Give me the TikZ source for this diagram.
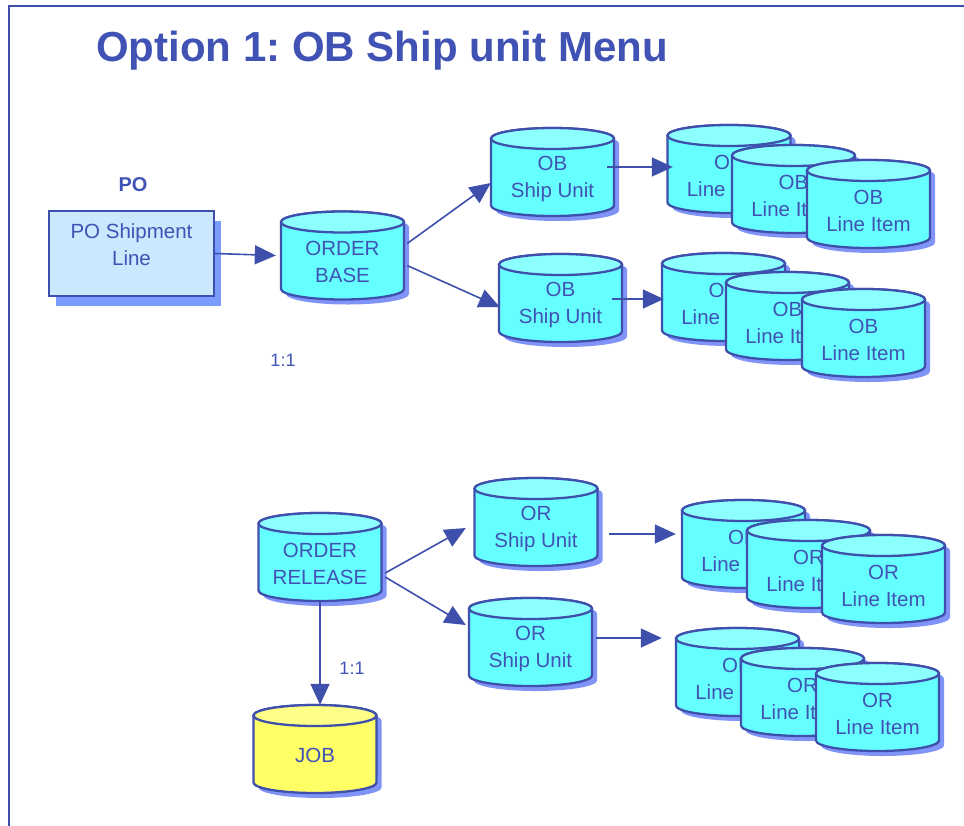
\documentclass[tikz,border=0pt]{standalone}
\usepackage{fontspec}
\setmainfont{Liberation Sans}
\usetikzlibrary{arrows.meta,shadows}
\definecolor{dblue}{RGB}{62,80,172}
\definecolor{tblue}{RGB}{64,82,180}
\definecolor{cyanbody}{RGB}{102,255,255}
\definecolor{cyantop}{RGB}{140,255,255}
\definecolor{yelbody}{RGB}{255,255,102}
\definecolor{yeltop}{RGB}{255,255,135}
\definecolor{shadowc}{RGB}{128,148,248}
\definecolor{pofill}{RGB}{204,232,255}
\definecolor{poshadow}{RGB}{122,156,255}
\frenchspacing
\tikzset{
  cylline/.style={draw=dblue,line width=2.3pt},
  shadowfill/.style={fill=shadowc},
  cylbox/.style={minimum width=123pt,minimum height=88pt,inner sep=0pt},
  cyltext/.style={text=tblue,align=center,inner sep=0pt,font=\fontsize{20.5}{27}\selectfont},
  conn/.style={draw=dblue,line width=1.6pt,-{Triangle[length=21pt,width=19pt]}},
  lbl/.style={text=tblue,font=\fontsize{18}{22}\selectfont},
  titlestyle/.style={text=tblue,inner sep=0pt,font=\bfseries\fontsize{42}{48}\selectfont},
  pobox/.style={draw=dblue,line width=2.3pt,fill=pofill,minimum width=165pt,minimum height=85pt,
    drop shadow={shadow xshift=6.5pt,shadow yshift=-10pt,fill=poshadow,opacity=1}},
  frameline/.style={draw=dblue,line width=2pt}
}
\newcommand\drawcyl[6]{%
  \pgfmathsetmacro\cylL{#2-61.5}%
  \pgfmathsetmacro\cylR{#2+61.5}%
  \pgfmathsetmacro\cylT{#3+33.5}%
  \pgfmathsetmacro\cylB{#3-33.5}%
  \path[shadowfill] (\cylL+5,\cylT-5) -- (\cylL+5,\cylB-5)
     arc[start angle=180,end angle=360,x radius=61.5,y radius=10.5]
     -- (\cylR+5,\cylT-5) arc[start angle=0,end angle=180,x radius=61.5,y radius=10.5] -- cycle;
  \path[cylline,fill=#4] (\cylL,\cylT) -- (\cylL,\cylB)
     arc[start angle=180,end angle=360,x radius=61.5,y radius=10.5]
     -- (\cylR,\cylT) arc[start angle=0,end angle=180,x radius=61.5,y radius=10.5] -- cycle;
  \path[cylline,fill=#5] (#2,\cylT) ellipse[x radius=61.5,y radius=10.5];
  \node[cylbox] (#1) at (#2,#3) {};
  \node[cyltext] (#1-t) at (#2,#3-6.5) {#6};
}
\begin{document}
\begin{tikzpicture}[x=1pt,y=1pt]
\useasboundingbox (0,0) rectangle (964,-825);
\draw[frameline] (9,-826) -- (9,-6) -- (965,-6);
\node[titlestyle,anchor=base west] (title) at (96,-61) {Option 1: OB Ship unit Menu};
\node[text=tblue,font=\bfseries\fontsize{20}{24}\selectfont] (polbl) at (133,-185) {PO};
\node[pobox] (po) at (131.5,-253.5) {};
\node[cyltext] (po-t) at (131.5,-245) {PO Shipment\\Line};
\drawcyl{ob}{342.5}{-255.5}{cyanbody}{cyantop}{ORDER\\BASE}
\drawcyl{obsu1}{552.5}{-172}{cyanbody}{cyantop}{OB\\Ship Unit}
\drawcyl{obsu2}{560.5}{-298}{cyanbody}{cyantop}{OB\\Ship Unit}
\drawcyl{obli1a}{729}{-169}{cyanbody}{cyantop}{OB\\Line Item}
\drawcyl{obli1b}{793.5}{-189}{cyanbody}{cyantop}{OB\\Line Item}
\drawcyl{obli1c}{868.5}{-204}{cyanbody}{cyantop}{OB\\Line Item}
\drawcyl{obli2a}{723.5}{-297}{cyanbody}{cyantop}{OB\\Line Item}
\drawcyl{obli2b}{787.5}{-316}{cyanbody}{cyantop}{OB\\Line Item}
\drawcyl{obli2c}{863.5}{-333}{cyanbody}{cyantop}{OB\\Line Item}
\node[lbl] (r1) at (283,-360) {1:1};
\drawcyl{orl}{320}{-557}{cyanbody}{cyantop}{ORDER\\RELEASE}
\drawcyl{orsu1}{536}{-522}{cyanbody}{cyantop}{OR\\Ship Unit}
\drawcyl{orsu2}{530.5}{-642}{cyanbody}{cyantop}{OR\\Ship Unit}
\drawcyl{orli1a}{743.5}{-544}{cyanbody}{cyantop}{OR\\Line Item}
\drawcyl{orli1b}{808.5}{-564}{cyanbody}{cyantop}{OR\\Line Item}
\drawcyl{orli1c}{883.5}{-579}{cyanbody}{cyantop}{OR\\Line Item}
\drawcyl{orli2a}{737.5}{-672}{cyanbody}{cyantop}{OR\\Line Item}
\drawcyl{orli2b}{802.5}{-692}{cyanbody}{cyantop}{OR\\Line Item}
\drawcyl{orli2c}{877.5}{-707}{cyanbody}{cyantop}{OR\\Line Item}
\drawcyl{job}{315}{-749}{yelbody}{yeltop}{JOB}
\node[lbl] (r2) at (352,-668) {1:1};
\draw[conn] (po.east) -- ([xshift=-5pt]ob.west);
\draw[conn] ([xshift=3pt,yshift=12pt]ob.east) -- ([yshift=-11pt]obsu1.west);
\draw[conn] ([xshift=3pt,yshift=-10pt]ob.east) -- ([xshift=1pt,yshift=-9pt]obsu2.west);
\draw[conn] ([xshift=-7pt,yshift=5pt]obsu1.east) -- ([xshift=5.5pt,yshift=2pt]obli1a.west);
\draw[conn] ([xshift=-10pt,yshift=-1pt]obsu2.east) -- ([xshift=2pt,yshift=-2pt]obli2a.west);
\draw[conn] ([xshift=3.5pt,yshift=-16pt]orl.east) -- ([xshift=-8.5pt,yshift=-6pt]orsu1.west);
\draw[conn] ([xshift=3.5pt,yshift=-20pt]orl.east) -- ([xshift=-3pt,yshift=17pt]orsu2.west);
\draw[conn] ([xshift=11.5pt,yshift=-12pt]orsu1.east) -- ([xshift=-6pt,yshift=10pt]orli1a.west);
\draw[conn] ([xshift=4pt,yshift=4pt]orsu2.east) -- ([xshift=-14pt,yshift=34pt]orli2a.west);
\draw[conn] (orl.south) -- (orl.south |- job.north);
\end{tikzpicture}
\end{document}
